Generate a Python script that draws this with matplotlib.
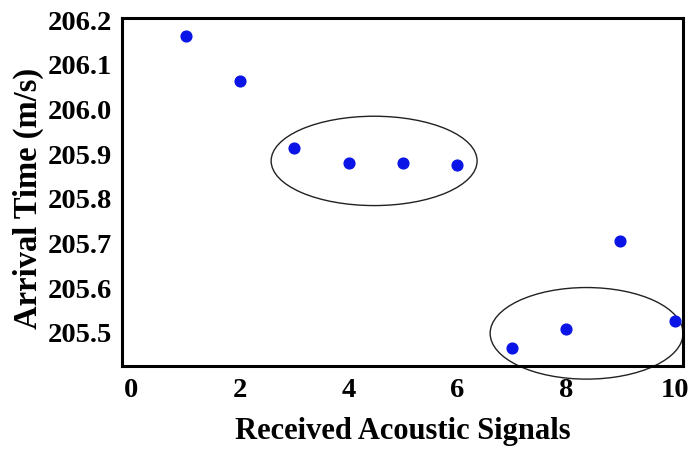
import matplotlib
matplotlib.use("Agg")
import matplotlib.pyplot as plt
from matplotlib.patches import Ellipse

signals = [1, 2, 3, 4, 5, 6, 7, 8, 9, 10]
arrival = [206.164, 206.063, 205.915, 205.88, 205.88, 205.876, 205.466, 205.509, 205.706, 205.526]

# ellipse groups: (center x, center y, width, height)
groups = [(4.47, 205.885, 3.79, 0.20), (8.38, 205.499, 3.55, 0.205)]

plt.rcParams['font.family'] = ['Liberation Serif', 'DejaVu Serif']
plt.rcParams['font.weight'] = 'bold'

fig = plt.figure(figsize=(6.89, 4.49), dpi=100)
ax = fig.add_axes([0.177, 0.185, 0.814, 0.775])

ax.scatter(signals, arrival, s=60, color='#0a14e6', zorder=3)

for cx, cy, w, h in groups:
    ax.add_patch(Ellipse((cx, cy), w, h, fill=False, edgecolor='#222222', lw=1.0, clip_on=False))

ax.set_xlim(-0.17, 10.15)
ax.set_ylim(205.426, 206.205)
ax.set_xticks([0, 2, 4, 6, 8, 10])
ax.set_yticks([205.5, 205.6, 205.7, 205.8, 205.9, 206.0, 206.1, 206.2])
ax.set_yticklabels(['205.5', '205.6', '205.7', '205.8', '205.9', '206.0', '206.1', '206.2'])
ax.tick_params(length=0, labelsize=20.5)
ax.tick_params(axis='y', pad=7)
ax.tick_params(axis='x', pad=9)
for lab in ax.get_xticklabels() + ax.get_yticklabels():
    lab.set_fontweight('bold')

for sp in ax.spines.values():
    sp.set_linewidth(2.2)

ax.set_xlabel("Received Acoustic Signals", fontsize=22, fontweight='bold', labelpad=10)
ax.set_ylabel("Arrival Time (m/s)", fontsize=23.5, fontweight='bold')
ax.yaxis.set_label_coords(-0.139, 0.48)

fig.savefig("out.png", dpi=100)
